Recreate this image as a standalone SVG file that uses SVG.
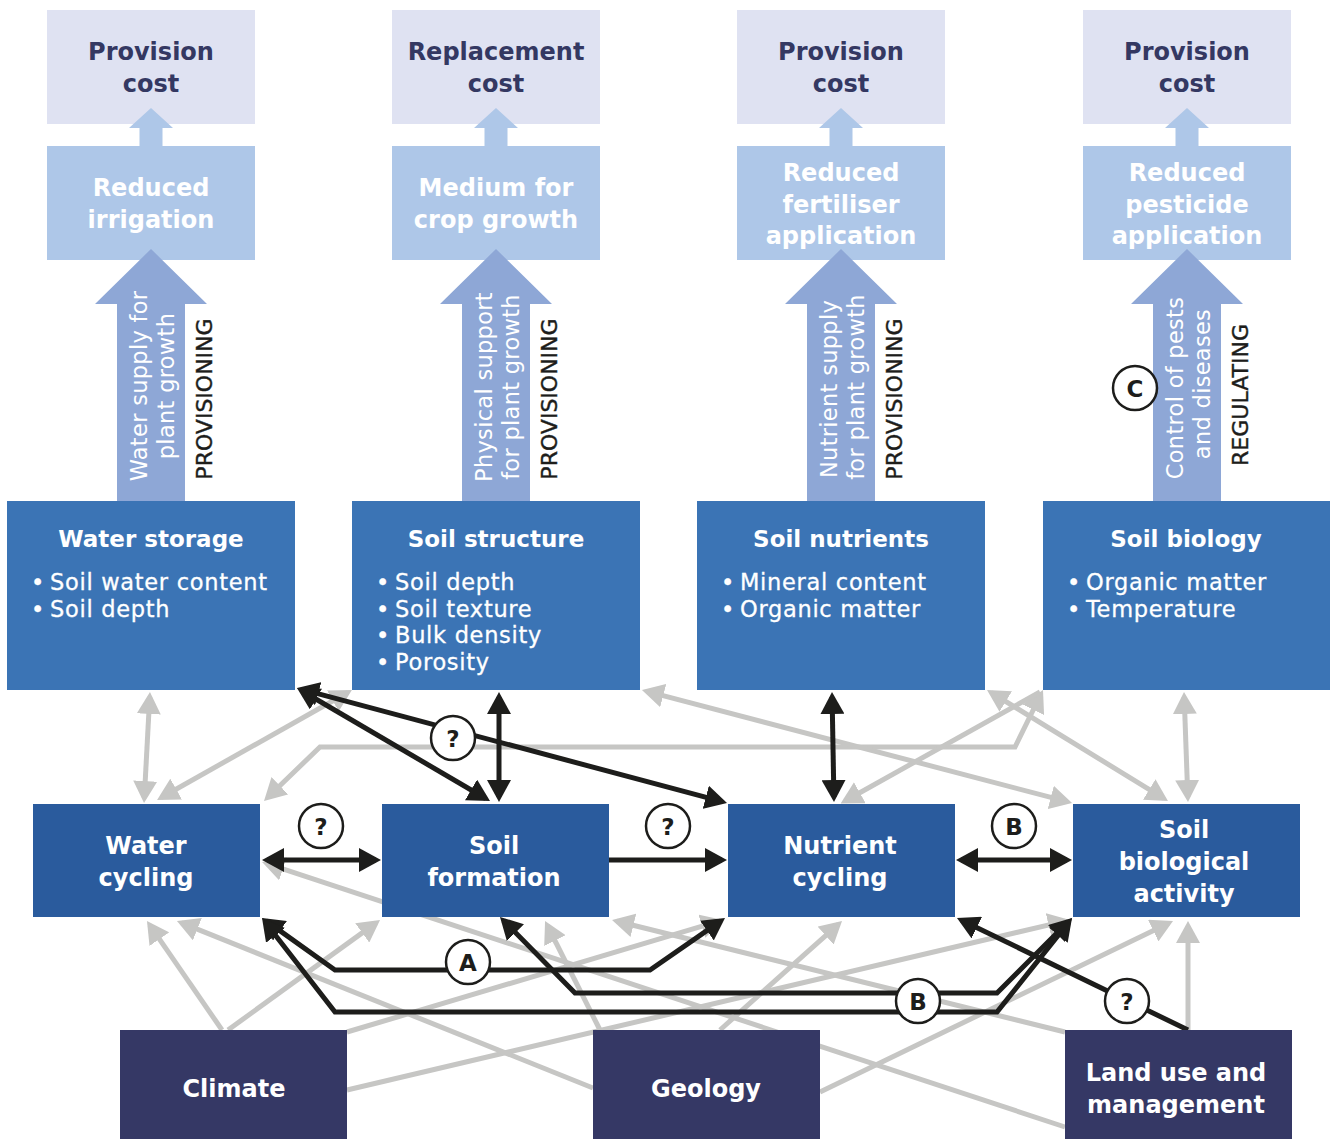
<svg xmlns="http://www.w3.org/2000/svg" width="1330" height="1139" viewBox="0 0 1330 1139">
<style>
text{font-family:"DejaVu Sans","Liberation Sans",Arial,sans-serif}
.cost{fill:#dfe2f2}
.ben{fill:#aec7e8}
.arr{fill:#8ea7d6}
.mid{fill:#3b74b5}
.proc{fill:#2a5b9d}
.drv{fill:#353865}
.tc{font-size:24px;font-weight:700;fill:#343862;text-anchor:middle}
.tb{font-size:24px;font-weight:700;fill:#fff;text-anchor:middle}
.tv{font-size:22.5px;fill:#fff;text-anchor:middle;letter-spacing:0.3px}
.tp{font-size:22px;fill:#1d1d1b;stroke:#1d1d1b;stroke-width:0.4;text-anchor:middle}
.tt{font-size:23px;font-weight:700;fill:#fff;text-anchor:middle}
.tl{font-size:22.5px;fill:#fff;stroke:#fff;stroke-width:0.3;letter-spacing:0.7px}
.g{stroke:#c6c6c4;stroke-width:5;fill:none}
.k{stroke:#1d1d1b;stroke-width:5;fill:none}
.lab circle{fill:#fff;stroke:#1d1d1b;stroke-width:2.5}
.lab text{font-size:23px;font-weight:700;fill:#1d1d1b;text-anchor:middle}
</style>
<defs>
<marker id="mg" viewBox="0 0 22 24" refX="17" refY="12" markerWidth="22" markerHeight="24" markerUnits="userSpaceOnUse" orient="auto-start-reverse"><path d="M0,0 L22,12 L0,24 Z" fill="#c6c6c4"/></marker>
<marker id="mb" viewBox="0 0 22 24" refX="17" refY="12" markerWidth="22" markerHeight="24" markerUnits="userSpaceOnUse" orient="auto-start-reverse"><path d="M0,0 L22,12 L0,24 Z" fill="#1d1d1b"/></marker>
</defs>

<g id="connectors">
<!-- grey -->
<path class="g" d="M149.7,697 L144.3,798" marker-start="url(#mg)" marker-end="url(#mg)"/>
<path class="g" d="M347.6,692.5 L161.4,797.5" marker-start="url(#mg)" marker-end="url(#mg)"/>
<path class="g" d="M1040.8,694.5 L1015,747 L320,747 L267.6,797.5" marker-start="url(#mg)" marker-end="url(#mg)"/>
<path class="g" d="M1040,692 L845,801" marker-end="url(#mg)"/>
<path class="g" d="M646.8,691.3 L1067.2,801.7" marker-start="url(#mg)" marker-end="url(#mg)"/>
<path class="g" d="M991.3,692.6 L1163.7,798.4" marker-start="url(#mg)" marker-end="url(#mg)"/>
<path class="g" d="M1184.2,697 L1187.8,797" marker-start="url(#mg)" marker-end="url(#mg)"/>
<path class="g" d="M222,1030 L149.8,925.1" marker-end="url(#mg)"/>
<path class="g" d="M228,1030 L376,922.9" marker-end="url(#mg)"/>
<path class="g" d="M347,1032 L718.2,921.4" marker-end="url(#mg)"/>
<path class="g" d="M347,1090 L1065.1,921.1" marker-end="url(#mg)"/>
<path class="g" d="M593,1088 L181.6,922.9" marker-end="url(#mg)"/>
<path class="g" d="M600,1030 L547.3,925.5" marker-end="url(#mg)"/>
<path class="g" d="M720,1030 L838.3,924.3" marker-end="url(#mg)"/>
<path class="g" d="M820,1092 L1168.5,923.2" marker-end="url(#mg)"/>
<path class="g" d="M1065,1127 L266.8,863.6" marker-end="url(#mg)"/>
<path class="g" d="M1065,1032 L616.9,921.2" marker-end="url(#mg)"/>
<path class="g" d="M1188,1030 L1188,926" marker-end="url(#mg)"/>
<!-- black -->
<path class="k" d="M301.3,690.5 L485.7,798.5" marker-start="url(#mb)" marker-end="url(#mb)"/>
<path class="k" d="M301.8,689.3 L722.2,801.7" marker-start="url(#mb)" marker-end="url(#mb)"/>
<path class="k" d="M499,697 L499,797" marker-start="url(#mb)" marker-end="url(#mb)"/>
<path class="k" d="M832.1,697 L833.9,797" marker-start="url(#mb)" marker-end="url(#mb)"/>
<path class="k" d="M267,860 L376,860" marker-start="url(#mb)" marker-end="url(#mb)"/>
<path class="k" d="M609,860 L722,860" marker-end="url(#mb)"/>
<path class="k" d="M961,860 L1067,860" marker-start="url(#mb)" marker-end="url(#mb)"/>
<path class="k" d="M266.1,920.9 L335,970 L650,970 L720.9,920.9" marker-start="url(#mb)" marker-end="url(#mb)"/>
<path class="k" d="M503.5,920.5 L575,993 L997,993 L1068.5,921.5" marker-start="url(#mb)" marker-end="url(#mb)"/>
<path class="k" d="M265.1,922 L335,1012 L997,1012 L1068.9,921.9" marker-start="url(#mb)" marker-end="url(#mb)"/>
<path class="k" d="M1188,1030 L961.5,920.2" marker-end="url(#mb)"/>
</g>

<g id="col1">
<rect class="cost" x="47" y="10" width="208" height="114"/>
<text class="tc" x="151" y="60">Provision</text>
<text class="tc" x="151" y="92">cost</text>
<rect class="ben" x="47" y="146" width="208" height="114"/>
<text class="tb" x="151" y="196">Reduced</text>
<text class="tb" x="151" y="228">irrigation</text>
<path class="ben" d="M139.5,146 L139.5,128 L129,128 L151,108 L173,128 L162.5,128 L162.5,146 Z"/>
<path class="arr" d="M117,501 L117,304 L95,304 L151,249 L207,304 L185,304 L185,501 Z"/>
<text class="tv" transform="translate(147,386) rotate(-90)">Water supply for</text>
<text class="tv" transform="translate(173.5,386) rotate(-90)">plant growth</text>
<text class="tp" transform="translate(212,399) rotate(-90)">PROVISIONING</text>
</g>
<g id="col2">
<rect class="cost" x="392" y="10" width="208" height="114"/>
<text class="tc" x="496" y="60">Replacement</text>
<text class="tc" x="496" y="92">cost</text>
<rect class="ben" x="392" y="146" width="208" height="114"/>
<text class="tb" x="496" y="196">Medium for</text>
<text class="tb" x="496" y="228">crop growth</text>
<path class="ben" d="M484.5,146 L484.5,128 L474,128 L496,108 L518,128 L507.5,128 L507.5,146 Z"/>
<path class="arr" d="M462,501 L462,304 L440,304 L496,249 L552,304 L530,304 L530,501 Z"/>
<text class="tv" transform="translate(492,387) rotate(-90)">Physical support</text>
<text class="tv" transform="translate(518.5,387) rotate(-90)">for plant growth</text>
<text class="tp" transform="translate(557,399) rotate(-90)">PROVISIONING</text>
</g>
<g id="col3">
<rect class="cost" x="737" y="10" width="208" height="114"/>
<text class="tc" x="841" y="60">Provision</text>
<text class="tc" x="841" y="92">cost</text>
<rect class="ben" x="737" y="146" width="208" height="114"/>
<text class="tb" x="841" y="181">Reduced</text>
<text class="tb" x="841" y="213">fertiliser</text>
<text class="tb" x="841" y="244">application</text>
<path class="ben" d="M829.5,146 L829.5,128 L819,128 L841,108 L863,128 L852.5,128 L852.5,146 Z"/>
<path class="arr" d="M807,501 L807,304 L785,304 L841,249 L897,304 L875,304 L875,501 Z"/>
<text class="tv" transform="translate(837,389) rotate(-90)">Nutrient supply</text>
<text class="tv" transform="translate(863.5,387) rotate(-90)">for plant growth</text>
<text class="tp" transform="translate(902,399) rotate(-90)">PROVISIONING</text>
</g>
<g id="col4">
<rect class="cost" x="1083" y="10" width="208" height="114"/>
<text class="tc" x="1187" y="60">Provision</text>
<text class="tc" x="1187" y="92">cost</text>
<rect class="ben" x="1083" y="146" width="208" height="114"/>
<text class="tb" x="1187" y="181">Reduced</text>
<text class="tb" x="1187" y="213">pesticide</text>
<text class="tb" x="1187" y="244">application</text>
<path class="ben" d="M1175.5,146 L1175.5,128 L1165,128 L1187,108 L1209,128 L1198.5,128 L1198.5,146 Z"/>
<path class="arr" d="M1153,501 L1153,304 L1131,304 L1187,249 L1243,304 L1221,304 L1221,501 Z"/>
<text class="tv" transform="translate(1183,388) rotate(-90)">Control of pests</text>
<text class="tv" transform="translate(1209.5,384) rotate(-90)">and diseases</text>
<text class="tp" transform="translate(1248,395) rotate(-90)">REGULATING</text>
</g>

<g id="water-storage">
<rect class="mid" x="7" y="501" width="288" height="189"/>
<text class="tt" x="151" y="547">Water storage</text>
<text class="tl"><tspan x="31" y="590">•</tspan><tspan x="50" y="590">Soil water content</tspan></text>
<text class="tl"><tspan x="31" y="616.5">•</tspan><tspan x="50" y="616.5">Soil depth</tspan></text>
</g>
<g id="soil-structure">
<rect class="mid" x="352" y="501" width="288" height="189"/>
<text class="tt" x="496" y="547">Soil structure</text>
<text class="tl"><tspan x="376" y="590">•</tspan><tspan x="395" y="590">Soil depth</tspan></text>
<text class="tl"><tspan x="376" y="616.5">•</tspan><tspan x="395" y="616.5">Soil texture</tspan></text>
<text class="tl"><tspan x="376" y="643">•</tspan><tspan x="395" y="643">Bulk density</tspan></text>
<text class="tl"><tspan x="376" y="669.5">•</tspan><tspan x="395" y="669.5">Porosity</tspan></text>
</g>
<g id="soil-nutrients">
<rect class="mid" x="697" y="501" width="288" height="189"/>
<text class="tt" x="841" y="547">Soil nutrients</text>
<text class="tl"><tspan x="721" y="590">•</tspan><tspan x="740" y="590">Mineral content</tspan></text>
<text class="tl"><tspan x="721" y="616.5">•</tspan><tspan x="740" y="616.5">Organic matter</tspan></text>
</g>
<g id="soil-biology">
<rect class="mid" x="1043" y="501" width="287" height="189"/>
<text class="tt" x="1186" y="547">Soil biology</text>
<text class="tl"><tspan x="1067" y="590">•</tspan><tspan x="1086" y="590">Organic matter</tspan></text>
<text class="tl"><tspan x="1067" y="616.5">•</tspan><tspan x="1086" y="616.5">Temperature</tspan></text>
</g>

<g id="water-cycling">
<rect class="proc" x="33" y="804" width="227" height="113"/>
<text class="tb" x="146" y="854">Water</text>
<text class="tb" x="146" y="886">cycling</text>
</g>
<g id="soil-formation">
<rect class="proc" x="382" y="804" width="227" height="113"/>
<text class="tb" x="494" y="854">Soil</text>
<text class="tb" x="494" y="886">formation</text>
</g>
<g id="nutrient-cycling">
<rect class="proc" x="728" y="804" width="227" height="113"/>
<text class="tb" x="840" y="854">Nutrient</text>
<text class="tb" x="840" y="886">cycling</text>
</g>
<g id="soil-biological-activity">
<rect class="proc" x="1073" y="804" width="227" height="113"/>
<text class="tb" x="1184" y="838">Soil</text>
<text class="tb" x="1184" y="870">biological</text>
<text class="tb" x="1184" y="902">activity</text>
</g>

<g id="climate">
<rect class="drv" x="120" y="1030" width="227" height="109"/>
<text class="tb" x="234" y="1097">Climate</text>
</g>
<g id="geology">
<rect class="drv" x="593" y="1030" width="227" height="109"/>
<text class="tb" x="706" y="1097">Geology</text>
</g>
<g id="land-use">
<rect class="drv" x="1065" y="1030" width="227" height="109"/>
<text class="tb" x="1176" y="1081">Land use and</text>
<text class="tb" x="1176" y="1113">management</text>
</g>

<g id="labels" class="lab">
<circle cx="453" cy="738" r="22"/><text x="453" y="746.5">?</text>
<circle cx="321" cy="826" r="22"/><text x="321" y="834.5">?</text>
<circle cx="668" cy="826" r="22"/><text x="668" y="834.5">?</text>
<circle cx="1014" cy="826" r="22"/><text x="1014" y="834.5">B</text>
<circle cx="468" cy="962" r="22"/><text x="468" y="970.5">A</text>
<circle cx="918" cy="1001" r="22"/><text x="918" y="1009.5">B</text>
<circle cx="1127" cy="1001" r="22"/><text x="1127" y="1009.5">?</text>
<circle cx="1135" cy="388" r="22"/><text x="1135" y="396.5">C</text>
</g>
</svg>
